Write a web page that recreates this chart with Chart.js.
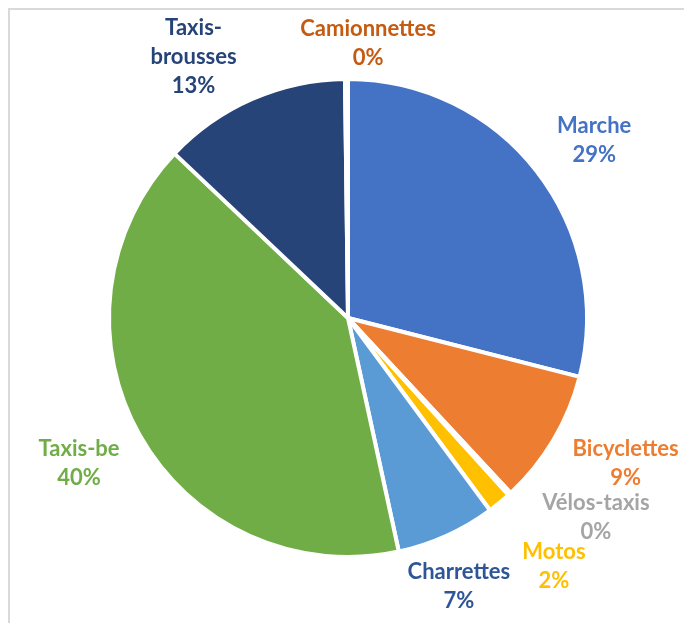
<!DOCTYPE html>
<html>
<head>
<meta charset="utf-8">
<script src="https://cdn.jsdelivr.net/npm/chart.js@4"></script>
<style>
  html, body { margin: 0; padding: 0; background: #fff; }
  #wrap { position: relative; width: 684px; height: 623px; overflow: hidden; }
  #frame { position: absolute; left: 8px; top: 8px; width: 700px; height: 700px;
           border-top: 2px solid #d9d9d9; border-left: 2px solid #d9d9d9; box-sizing: border-box; }
  canvas { position: absolute; left: 0; top: 0; }
</style>
</head>
<body>
<div id="wrap">
  <div id="frame"></div>
  <canvas id="c" width="684" height="623"></canvas>
</div>
<script>
const categories = ['Marche', 'Bicyclettes', 'Vélos-taxis', 'Motos', 'Charrettes', 'Taxis-be', 'Taxis-brousses', 'Camionnettes'];
const shares = [28.9, 9.1, 0.2, 1.6, 6.7, 40.4, 12.7, 0.2];
const sliceColors = ['#4472C4', '#ED7D31', '#A5A5A5', '#FFC000', '#5B9BD5', '#70AD47', '#264478', '#9E480E'];
const labelColors = ['#4472C4', '#ED7D31', '#A5A5A5', '#FFC000', '#2F5597', '#70AD47', '#264478', '#C55A11'];
const labelLines = [['Marche'], ['Bicyclettes'], ['Vélos-taxis'], ['Motos'], ['Charrettes'], ['Taxis-be'], ['Taxis-', 'brousses'], ['Camionnettes']];
// label placement tweaks (px) relative to the slice's mid-angle anchor
const labelNudge = [[7, 8], [17, -9], [43, -24], [14, 14], [-14, -8], [-5, -3], [-33, 17], [22, 28]];

const labelPlugin = {
  id: 'outsideLabels',
  afterDatasetsDraw(chart) {
    const ctx = chart.ctx;
    const meta = chart.getDatasetMeta(0);
    const data = chart.data.datasets[0].data;
    const total = data.reduce((a, b) => a + b, 0);
    ctx.save();
    ctx.font = 'bold 22px Lato';
    ctx.textAlign = 'center';
    ctx.textBaseline = 'middle';
    const lh = 29;
    meta.data.forEach((arc, i) => {
      const p = arc.getProps(['x', 'y', 'startAngle', 'endAngle', 'outerRadius'], true);
      const mid = (p.startAngle + p.endAngle) / 2;
      const d = p.outerRadius + 64;
      const cx = p.x + Math.cos(mid) * d + labelNudge[i][0];
      const cy = p.y + Math.sin(mid) * d + labelNudge[i][1];
      const lines = labelLines[i].concat([Math.round(data[i] / total * 100) + '%']);
      const y0 = cy - (lines.length - 1) * lh / 2;
      ctx.fillStyle = labelColors[i];
      lines.forEach((t, k) => ctx.fillText(t, cx, y0 + k * lh));
    });
    ctx.restore();
  }
};

new Chart(document.getElementById('c'), {
  type: 'pie',
  data: {
    labels: categories,
    datasets: [{
      data: shares,
      backgroundColor: sliceColors,
      borderColor: '#ffffff',
      borderWidth: 4
    }]
  },
  options: {
    responsive: false,
    animation: false,
    layout: { padding: { left: 107, right: 95, top: 77, bottom: 64 } },
    plugins: { legend: { display: false }, tooltip: { enabled: false } }
  },
  plugins: [labelPlugin]
});
</script>
</body>
</html>
